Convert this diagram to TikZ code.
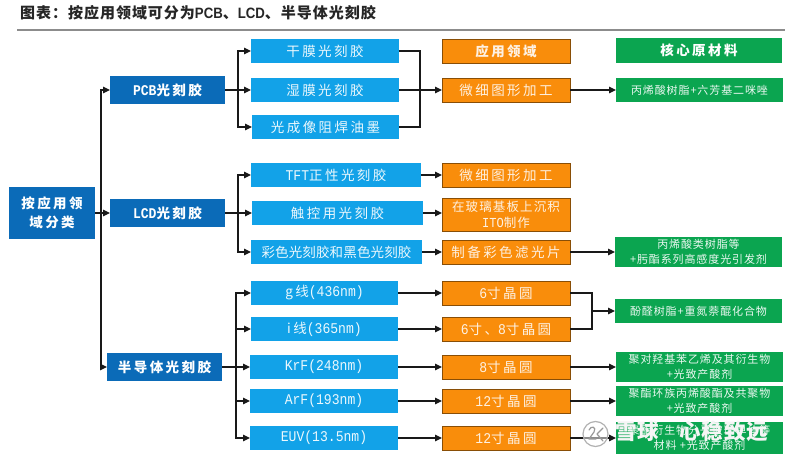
\documentclass[tikz,border=0pt]{standalone}
\usepackage{fontspec}
\usetikzlibrary{arrows.meta}
\setmainfont{Noto Sans CJK SC}
\newfontfamily\lat{Liberation Mono}[Scale=1.1,FakeStretch=0.88]
\newfontfamily\latb{Liberation Sans}[FakeStretch=0.88]
% size, baseline, letter spacing
\newcommand{\fs}[3]{\fontsize{#1}{#2}\selectfont\addfontfeature{LetterSpace=#3}}
\newcommand{\bx}[7]{%
  \pgfmathsetmacro{\bcx}{(#3+#5)/2}\pgfmathsetmacro{\bcy}{(#4+#6)/2}%
  \pgfmathsetmacro{\bwd}{#5-#3}\pgfmathsetmacro{\bht}{#6-#4}%
  \node[#2,minimum width=\bwd pt,minimum height=\bht pt] (#1) at (\bcx,\bcy) {#7};}
\definecolor{dblue}{HTML}{0B6BB8}
\definecolor{lblue}{HTML}{12A2E8}
\definecolor{orng}{HTML}{F98D0B}
\definecolor{grn}{HTML}{0BA550}
\definecolor{ruleg}{HTML}{8C8C8C}
\tikzset{
  boxbase/.style={inner sep=0pt,outer sep=0pt,align=center,text=white},
  root/.style={boxbase,fill=dblue,font=\bfseries\fs{13.5}{18.5}{18}},
  lone/.style={boxbase,fill=dblue,font=\bfseries\fs{13.5}{17}{18}},
  ltwo/.style={boxbase,fill=lblue,font=\fs{13.5}{17}{18},text=white!92!lblue},
  ltwotight/.style={ltwo,font=\fs{13.5}{17}{1}},
  app/.style={boxbase,fill=orng,draw=black!45!orng,line width=0.8pt,font=\fs{13.5}{17}{18},text=white!88!orng},
  apphead/.style={app,font=\bfseries\fs{13.5}{17}{18}},
  appsmall/.style={app,font=\fs{12.5}{16}{9}},
  mat/.style={boxbase,fill=grn,font=\fs{11}{15}{8},text=white!92!grn},
  mathead/.style={boxbase,fill=grn,font=\bfseries\fs{13.5}{17}{18}},
  conn/.style={black!90,line width=1.1pt},
  arr/.style={conn,-{Triangle[length=7pt,width=6.5pt]}},
}
\begin{document}
\begin{tikzpicture}[x=1pt,y=-1pt]
\useasboundingbox (0,0) rectangle (796,458);
\fill[white] (0,0) rectangle (796,458);
% title
\node[inner sep=0pt,anchor=west,font=\bfseries\fs{15}{18}{6.5},text=black!85] (title) at (20,13) {图表：按应用领域可分为{\latb\bfseries PCB}、{\latb\bfseries LCD}、半导体光刻胶};
\coordinate (ruleL) at (17,30); \coordinate (ruleR) at (785,30);
\draw[ruleg,line width=1.2pt] (ruleL) -- (ruleR);
% level 0,1
\bx{root}{root}{9}{187}{95}{239}{按应用领\\域分类}
\bx{pcb}{lone}{110}{76}{225}{104}{{\lat\bfseries PCB}光刻胶}
\bx{lcd}{lone}{110}{199}{225}{227}{{\lat\bfseries LCD}光刻胶}
\bx{semi}{lone}{107}{353}{222}{381}{半导体光刻胶}
% level 2
\bx{gan}{ltwo}{251}{39}{399}{63}{干膜光刻胶}
\bx{shi}{ltwo}{251}{78}{399}{102}{湿膜光刻胶}
\bx{gcx}{ltwo}{252}{115}{399}{139}{光成像阻焊油墨}
\bx{tft}{ltwo}{251}{163}{421}{187}{{\lat TFT}正性光刻胶}
\bx{chu}{ltwo}{252}{201}{423}{225}{触控用光刻胶}
\bx{cai}{ltwotight}{251}{240}{422}{264}{彩色光刻胶和黑色光刻胶}
\bx{gx}{ltwo}{251}{281}{398}{305}{g线{\lat (436nm)}}
\bx{ix}{ltwo}{251}{317}{398}{341}{i线{\lat (365nm)}}
\bx{krf}{ltwo}{250}{355}{398}{379}{{\lat KrF(248nm)}}
\bx{arf}{ltwo}{250}{389}{398}{413}{{\lat ArF(193nm)}}
\bx{euv}{ltwo}{250}{426}{398}{450}{{\lat EUV(13.5nm)}}
% application
\bx{ohead}{apphead}{442}{39}{570}{63}{应用领域}
\bx{oa}{app}{442}{78}{570}{102}{微细图形加工}
\bx{ob}{app}{442}{163}{570}{187}{微细图形加工}
\bx{oc}{appsmall}{442}{198}{570}{231}{在玻璃基板上沉积\\{\lat ITO}制作}
\bx{od}{app}{442}{240}{570}{264}{制备彩色滤光片}
\bx{oe}{app}{442}{281}{570}{305}{{\lat 6}寸晶圆}
\bx{of}{app}{442}{317}{570}{341}{{\lat 6}寸、{\lat 8}寸晶圆}
\bx{og}{app}{442}{355}{570}{379}{{\lat 8}寸晶圆}
\bx{oh}{app}{442}{389}{570}{413}{{\lat 12}寸晶圆}
\bx{oi}{app}{442}{426}{570}{450}{{\lat 12}寸晶圆}
% materials
\bx{ghead}{mathead}{616}{38}{782}{63}{核心原材料}
\bx{ga}{mat}{616}{78}{783}{102}{丙烯酸树脂+六芳基二咪唑}
\bx{gb}{mat}{615}{237}{782}{267}{丙烯酸类树脂等\\+肟酯系列高感度光引发剂}
\bx{gc}{mat}{615}{299}{782}{323}{酚醛树脂+重氮萘醌化合物}
\bx{gd}{mat}{616}{352}{783}{382}{聚对羟基苯乙烯及其衍生物\\+光致产酸剂}
\bx{ge}{mat}{616}{386}{783}{416}{聚酯环族丙烯酸酯及共聚物\\+光致产酸剂}
\bx{gf}{mat}{616}{422}{783}{454}{聚酯衍生物分子玻璃单体等\\材料 +光致产酸剂}
% connectors level 0 -> 1
\coordinate (b0) at (101,213);
\draw[conn] (root.east) -- (b0);
\draw[arr] (b0) |- (pcb.west);
\draw[arr] (b0) -- (lcd.west);
\draw[arr] (b0) |- (semi.west);
% PCB
\coordinate (b1) at (238,90);
\draw[conn] (pcb.east) -- (b1);
\draw[arr] (b1) |- (gan.west);
\draw[arr] (b1) -- (shi.west);
\draw[arr] (b1) |- (gcx.west);
% LCD
\coordinate (b2) at (238,213);
\draw[conn] (lcd.east) -- (b2);
\draw[arr] (b2) |- (tft.west);
\draw[arr] (b2) -- (chu.west);
\draw[arr] (b2) |- (cai.west);
% Semi
\coordinate (b3) at (236,367);
\draw[conn] (semi.east) -- (b3);
\draw[arr] (b3) |- (gx.west);
\draw[arr] (b3) |- (ix.west);
\draw[arr] (b3) -- (krf.west);
\draw[arr] (b3) |- (arf.west);
\draw[arr] (b3) |- (euv.west);
% level 2 -> application
\coordinate (m1) at (420,90);
\draw[conn] (gan.east) -| (m1);
\draw[conn] (gcx.east) -| (m1);
\draw[arr] (shi.east) -- (oa.west);
\draw[arr] (tft.east) -- (ob.west);
\draw[arr] (chu.east) -- (oc.west |- chu.east);
\draw[arr] (cai.east) -- (od.west);
\draw[arr] (gx.east) -- (oe.west);
\draw[arr] (ix.east) -- (of.west);
\draw[arr] (krf.east) -- (og.west);
\draw[arr] (arf.east) -- (oh.west);
\draw[arr] (euv.east) -- (oi.west);
% application -> materials
\draw[arr] (oa.east) -- (ga.west);
\draw[arr] (od.east) -- (gb.west);
\coordinate (m2) at (592,311);
\draw[conn] (oe.east) -| (m2);
\draw[conn] (of.east) -| (m2);
\draw[arr] (m2) -- (gc.west);
\draw[arr] (og.east) -- (gd.west);
\draw[arr] (oh.east) -- (ge.west);
\draw[arr] (oi.east) -- (gf.west);
% watermark
\fill[white,opacity=.5] (595.5,434) circle (12.5);
\draw[black!30,line width=1.2pt] (595.5,434) circle (12.5);
\draw[black!40,line width=1.2pt,line cap=round,line join=round] (589,430) .. controls (591,425) and (597,427) .. (594,432) -- (589,439) -- (596,439);
\draw[black!40,line width=1.2pt,line cap=round,line join=round] (603,428) -- (597,434) -- (603,441);
\node[inner sep=0pt,anchor=west,font=\bfseries\fs{21.5}{24}{5},text=white!96!black] (wm) at (615,431) {雪球\hspace{20pt}心稳致远};
\end{tikzpicture}
\end{document}
